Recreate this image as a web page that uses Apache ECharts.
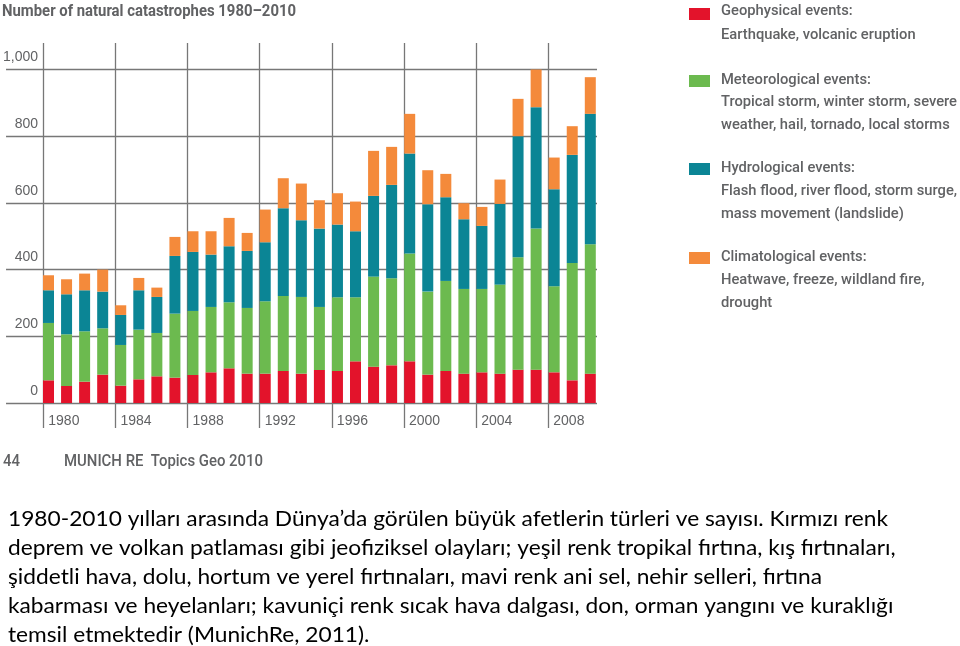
<!DOCTYPE html>
<html>
<head>
<meta charset="utf-8">
<script src="https://cdn.jsdelivr.net/npm/echarts@6/dist/echarts.min.js"></script>
<style>
html,body{margin:0;padding:0;background:#fff;}
#chart{width:960px;height:646px;}
</style>
</head>
<body>
<div id="chart"></div>
<script>
// ---------- DATA ----------
const years = ['1980','1981','1982','1983','1984','1985','1986','1987','1988','1989',
  '1990','1991','1992','1993','1994','1995','1996','1997','1998','1999',
  '2000','2001','2002','2003','2004','2005','2006','2007','2008','2009','2010'];
const geophysical   = [68,51,64,85,52,71,80,76,84,92,104,88,88,96,88,99,96,125,109,113,125,85,96,88,92,88,100,100,92,68,88];
const meteorological= [172,155,151,139,122,149,130,192,192,196,198,197,217,225,230,189,221,192,270,261,323,249,270,254,250,267,337,423,258,352,388];
const hydrological  = [98,120,123,110,90,118,108,173,177,157,168,171,177,263,230,235,218,198,242,280,300,262,251,209,189,242,363,364,291,324,391];
const climatological= [45,45,50,66,29,37,28,57,62,70,85,54,98,90,110,85,94,89,135,114,119,102,70,48,57,73,112,128,95,86,110];
const yTickLabels = {0:'0',200:'200',400:'400',600:'600',800:'800',1000:'1,000'};
const xTickYears = [1980,1984,1988,1992,1996,2000,2004,2008];

const title = 'Number of natural catastrophes 1980–2010';
const legendItems = [
  {name:'Geophysical events:', lines:['Earthquake, volcanic eruption']},
  {name:'Meteorological events:', lines:['Tropical storm, winter storm, severe','weather, hail, tornado, local storms']},
  {name:'Hydrological events:', lines:['Flash flood, river flood, storm surge,','mass movement (landslide)']},
  {name:'Climatological events:', lines:['Heatwave, freeze, wildland fire,','drought']}
];
const footerPage = '44';
const footerSource = 'MUNICH RE  Topics Geo 2010';
const paragraph = [
  '1980-2010 yılları arasında Dünya’da görülen büyük afetlerin türleri ve sayısı. Kırmızı renk',
  'deprem ve volkan patlaması gibi jeofiziksel olayları; yeşil renk tropikal fırtına, kış fırtınaları,',
  'şiddetli hava, dolu, hortum ve yerel fırtınaları, mavi renk ani sel, nehir selleri, fırtına',
  'kabarması ve heyelanları; kavuniçi renk sıcak hava dalgası, don, orman yangını ve kuraklığı',
  'temsil etmektedir (MunichRe, 2011).'
];

// ---------- STYLE ----------
const colors = ['#e3132b','#6cba4f','#0b8595','#f48a3b'];
const seriesNames = legendItems.map(d=>d.name);
const seriesData = [geophysical, meteorological, hydrological, climatological];
const gridColor = '#777777';
const greyText = '#616264';
const condFont = "'Liberation Sans Narrow', 'Liberation Sans', Arial, sans-serif";

const cv = document.createElement('canvas').getContext('2d');
function fit(text, font, target){ cv.font = font; return target / cv.measureText(text).width; }

const titleFont = 'bold 17px Roboto';
const titleScale = fit(title, titleFont, 294);
const legFont = '500 15px Roboto';
const legScale = fit('Tropical storm, winter storm, severe', legFont, 236);
const footFont = '500 17px Roboto';
const footScale = fit(footerSource, footFont, 199);
const paraFont = '21px Lato';
const paraScale = fit(paragraph[0], paraFont, 880);

const graphics = [];
graphics.push({type:'text', x:2, y:11.5, scaleX:titleScale,
  style:{text:title, font:titleFont, fill:greyText, verticalAlign:'middle'}});

const legTops = [[11.5,35],[80.5,102.5,125.5],[168.5,191.5,214.5],[257.5,280.5,303.5]];
const sqTops = [8,75,163,252];
legendItems.forEach((it,i)=>{
  graphics.push({type:'rect', shape:{x:689, y:sqTops[i], width:21, height:12}, style:{fill:colors[i]}});
  const all = [it.name].concat(it.lines);
  all.forEach((t,j)=>{
    graphics.push({type:'text', x:721, y:legTops[i][j], scaleX:legScale,
      style:{text:t, font:legFont, fill:greyText, verticalAlign:'middle'}});
  });
});
graphics.push({type:'text', x:3, y:461.5, scaleX:footScale,
  style:{text:footerPage, font:footFont, fill:greyText, verticalAlign:'middle'}});
graphics.push({type:'text', x:64, y:461.5, scaleX:footScale,
  style:{text:footerSource, font:footFont, fill:greyText, verticalAlign:'middle'}});
const paraY = [519, 548, 577.5, 606.5, 635.5];
paragraph.forEach((t,i)=>{
  graphics.push({type:'text', x:8, y:paraY[i], scaleX:paraScale,
    style:{text:t, font:paraFont, fill:'#000', verticalAlign:'middle'}});
});

const band = 18.06;
const chart = echarts.init(document.getElementById('chart'), null, {renderer:'canvas'});
chart.setOption({
  animation:false,
  backgroundColor:'#fff',
  grid:[
    {left:48.5-band/2, top:69.5, width:band*years.length, height:333.5, containLabel:false},
    {left:0, top:69.5, width:597, height:333.5, containLabel:false},
    {left:43.3, top:43, width:505, height:385, containLabel:false}
  ],
  xAxis:[
    {type:'category', gridIndex:0, data:years, show:false, boundaryGap:true},
    {type:'value', gridIndex:1, min:0, max:1, show:false},
    {type:'value', gridIndex:2, min:1980, max:2008, interval:4,
      axisLine:{show:false}, axisTick:{show:false},
      splitLine:{show:true, lineStyle:{color:gridColor, width:1.3}},
      axisLabel:{inside:true, margin:0, align:'left', verticalAlign:'bottom', padding:[0,0,0,5],
        color:greyText, fontSize:14, fontFamily:condFont,
        formatter:(v)=> xTickYears.indexOf(v)>=0 ? String(v) : ''}}
  ],
  yAxis:[
    {type:'value', gridIndex:0, min:0, max:1000, show:false},
    {type:'value', gridIndex:1, min:0, max:1000, interval:200,
      axisLine:{show:false}, axisTick:{show:false},
      splitLine:{show:true, lineStyle:{color:gridColor, width:1.3}},
      axisLabel:{inside:true, margin:32, align:'right', verticalAlign:'bottom', padding:[0,0,5,0],
        color:greyText, fontSize:14, fontFamily:condFont,
        formatter:(v)=> yTickLabels[v] !== undefined ? yTickLabels[v] : ''}},
    {type:'value', gridIndex:2, min:0, max:1, show:false}
  ],
  series: seriesData.map((d,i)=>({
    name:seriesNames[i], type:'bar', stack:'total', xAxisIndex:0, yAxisIndex:0,
    barWidth:11, data:d, itemStyle:{color:colors[i]}, z:3
  })),
  graphic: graphics
});
</script>
</body>
</html>
